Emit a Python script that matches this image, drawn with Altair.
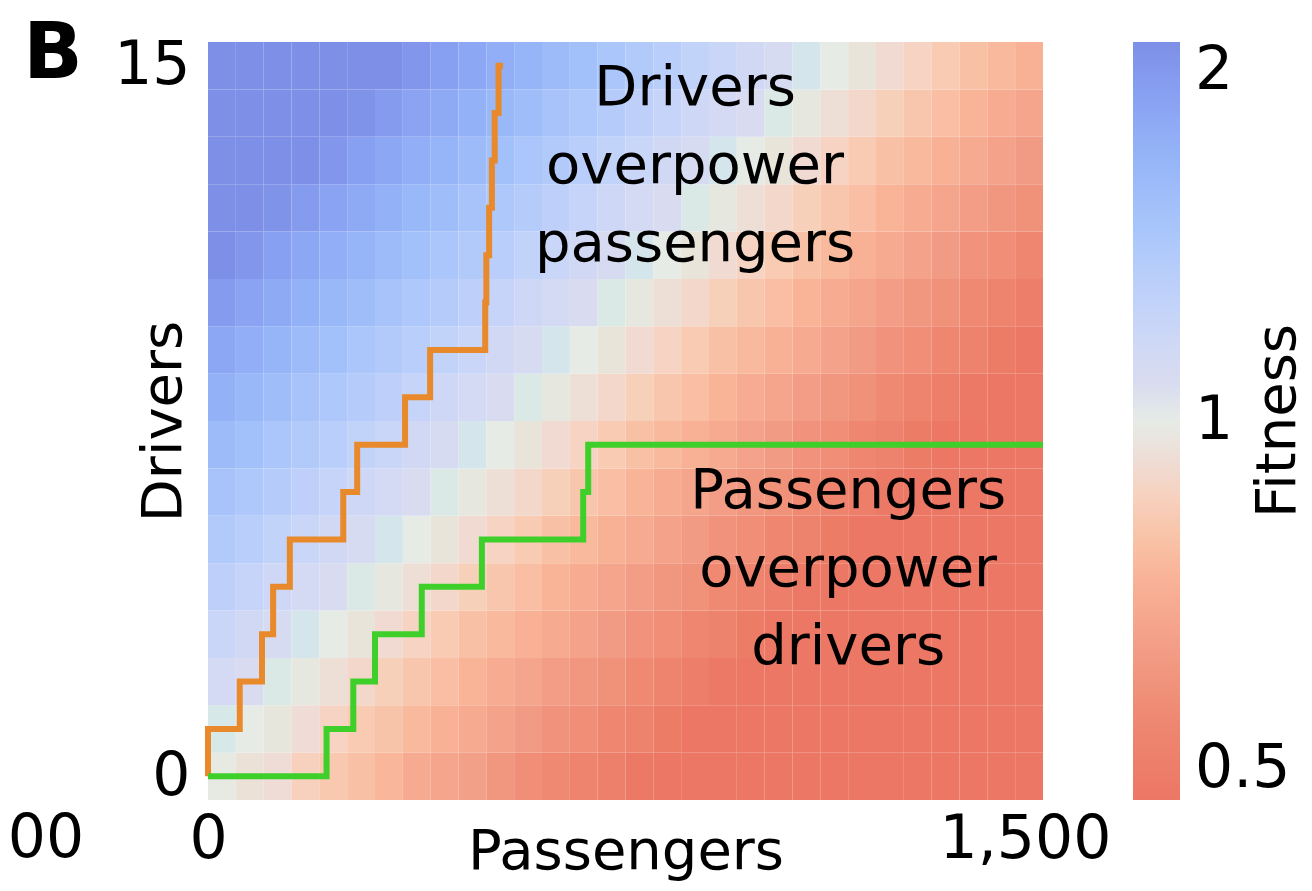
import altair as alt
import pandas as pd

# ---------------- data ----------------
# heat map: rows = drivers 0..15, columns = passenger bins of 50 (0..1500)
bin_width = 50
fitness_rows = [
    [0.99,0.95,0.93,0.87,0.83,0.80,0.76,0.71,0.69,0.67,0.63,0.60,0.58,0.56,0.54,0.51,0.50,0.50,0.50,0.50,0.50,0.50,0.50,0.50,0.50,0.50,0.50,0.50,0.50,0.50],
    [1.03,1.00,0.97,0.93,0.88,0.84,0.81,0.77,0.74,0.71,0.68,0.65,0.62,0.60,0.57,0.55,0.52,0.50,0.50,0.50,0.50,0.50,0.50,0.50,0.50,0.50,0.50,0.50,0.50,0.50],
    [1.11,1.07,1.02,0.98,0.94,0.90,0.86,0.82,0.79,0.75,0.72,0.69,0.66,0.63,0.61,0.58,0.56,0.53,0.51,0.50,0.50,0.50,0.50,0.50,0.50,0.50,0.50,0.50,0.50,0.50],
    [1.19,1.14,1.09,1.04,1.00,0.96,0.92,0.88,0.84,0.80,0.77,0.74,0.71,0.68,0.65,0.62,0.60,0.57,0.55,0.52,0.50,0.50,0.50,0.50,0.50,0.50,0.50,0.50,0.50,0.50],
    [1.27,1.22,1.16,1.11,1.07,1.02,0.98,0.94,0.90,0.86,0.82,0.79,0.75,0.72,0.69,0.66,0.63,0.61,0.58,0.56,0.53,0.51,0.50,0.50,0.50,0.50,0.50,0.50,0.50,0.50],
    [1.35,1.30,1.24,1.19,1.14,1.09,1.04,1.00,0.96,0.92,0.88,0.84,0.80,0.77,0.74,0.71,0.68,0.65,0.62,0.60,0.57,0.55,0.52,0.50,0.50,0.50,0.50,0.50,0.50,0.50],
    [1.44,1.38,1.33,1.27,1.22,1.16,1.11,1.07,1.02,0.98,0.94,0.90,0.86,0.82,0.79,0.75,0.72,0.69,0.66,0.63,0.61,0.58,0.56,0.53,0.51,0.50,0.50,0.50,0.50,0.50],
    [1.54,1.48,1.41,1.35,1.30,1.24,1.19,1.14,1.09,1.04,1.00,0.96,0.92,0.88,0.84,0.80,0.77,0.74,0.71,0.68,0.65,0.62,0.60,0.57,0.55,0.52,0.50,0.50,0.50,0.50],
    [1.65,1.58,1.51,1.44,1.38,1.33,1.27,1.22,1.16,1.11,1.07,1.02,0.98,0.94,0.90,0.86,0.82,0.79,0.75,0.72,0.69,0.66,0.63,0.61,0.58,0.56,0.53,0.51,0.50,0.50],
    [1.76,1.68,1.61,1.54,1.48,1.41,1.35,1.30,1.24,1.19,1.14,1.09,1.04,1.00,0.96,0.92,0.88,0.84,0.80,0.77,0.74,0.71,0.68,0.65,0.62,0.60,0.57,0.55,0.52,0.50],
    [1.87,1.80,1.72,1.65,1.58,1.51,1.44,1.38,1.33,1.27,1.22,1.16,1.11,1.07,1.02,0.98,0.94,0.90,0.86,0.82,0.79,0.75,0.72,0.69,0.66,0.63,0.61,0.58,0.56,0.53],
    [2.00,1.92,1.83,1.76,1.68,1.61,1.54,1.48,1.41,1.35,1.30,1.24,1.19,1.14,1.09,1.04,1.00,0.96,0.92,0.88,0.84,0.80,0.77,0.74,0.71,0.68,0.65,0.62,0.60,0.57],
    [2.00,2.00,1.96,1.87,1.80,1.72,1.65,1.58,1.51,1.44,1.38,1.33,1.27,1.22,1.16,1.11,1.07,1.02,0.98,0.94,0.90,0.86,0.82,0.79,0.75,0.72,0.69,0.66,0.63,0.61],
    [2.00,2.00,2.00,2.00,1.92,1.83,1.76,1.68,1.61,1.54,1.48,1.41,1.35,1.30,1.24,1.19,1.14,1.09,1.04,1.00,0.96,0.92,0.88,0.84,0.80,0.77,0.74,0.71,0.68,0.65],
    [2.00,2.00,2.00,2.00,2.00,1.96,1.87,1.80,1.72,1.65,1.58,1.51,1.44,1.38,1.33,1.27,1.22,1.16,1.11,1.07,1.02,0.98,0.94,0.90,0.86,0.82,0.79,0.75,0.72,0.69],
    [2.00,2.00,2.00,2.00,2.00,2.00,2.00,1.92,1.83,1.76,1.68,1.61,1.54,1.48,1.41,1.35,1.30,1.24,1.19,1.14,1.09,1.04,1.00,0.96,0.92,0.88,0.84,0.80,0.77,0.74],
]

# orange boundary: passengers reached at each driver level (step line)
orange_drivers = [0, 1, 2, 3, 4, 5, 6, 7, 8, 9, 10, 11, 12, 13, 14, 15]
orange_passengers = [0, 57, 97, 117, 147, 243, 268, 354, 399, 498, 500, 505, 510, 515, 522, 530]

# green boundary
green_drivers = [0, 1, 2, 3, 4, 5, 6, 7, 7]
green_passengers = [0, 213, 261, 300, 384, 492, 674, 683, 1500]

annot_labels = ["Drivers\noverpower\npassengers", "Passengers\noverpower\ndrivers"]
annot_passengers = [875, 1150]
annot_drivers = [14.17, 5.66]

# colour stops on log2(fitness): 0.5, 0.57, 0.65, 0.75, 0.85, 0.93, 1, 1.07, 1.2, 1.4, 1.6, 1.8, 2
fit_stops_log2 = [-1.0, -0.81, -0.62, -0.415, -0.234, -0.105, 0.0, 0.098, 0.263, 0.485, 0.678, 0.848, 1.0]
fit_colors = ["#ec7764", "#ee8670", "#f29b84", "#f9b397", "#f8ceb5", "#efdcd6",
              "#e6ebe6", "#d9dcf0", "#c8d6f8", "#abc7fb", "#97b6f8", "#8aa3f3", "#7d8fe6"]

# ---------------- tables ----------------
recs = []
for d, row in enumerate(fitness_rows):
    for j, f in enumerate(row):
        recs.append({"p0": j * bin_width, "p1": (j + 1) * bin_width,
                     "y0": d - 0.5, "y1": d + 0.5, "fitness": f})
heat_df = pd.DataFrame(recs)
orange_df = pd.DataFrame({"passengers": orange_passengers, "drivers": orange_drivers,
                          "i": list(range(len(orange_drivers)))})
green_df = pd.DataFrame({"passengers": green_passengers, "drivers": green_drivers,
                         "i": list(range(len(green_drivers)))})
annot_df = pd.DataFrame({"label": annot_labels, "p": annot_passengers, "d": annot_drivers})

FONT = "DejaVu Sans"
FS = 56
TFS = 60

xscale = alt.Scale(domain=[0, 1500], nice=False, zero=False)
yscale = alt.Scale(domain=[-0.5, 15.5], nice=False, zero=False)
cscale = alt.Scale(type="linear", domain=fit_stops_log2, range=fit_colors, clamp=True)

x_axis = alt.Axis(values=[0, 1500], title="Passengers",
                  labelExpr="datum.value == 0 ? '0' : '1,500'", labelLimit=400,
                  labelFlush=False, labelOffset={"expr": "datum.value == 1500 ? -18 : 0"},
                  labelFontSize=TFS, titleFontSize=FS, labelFont=FONT, titleFont=FONT,
                  domain=False, ticks=False, tickSize=0, grid=False,
                  labelPadding=10, labelColor="black", titleColor="black",
                  titleFontWeight="normal", titleBaseline="alphabetic", titleY=68)
y_axis = alt.Axis(values=[0, 15], title="Drivers",
                  labelFontSize=TFS, titleFontSize=FS, labelFont=FONT, titleFont=FONT,
                  domain=False, ticks=False, tickSize=0, grid=False, labelFlush=False,
                  labelPadding=18, labelColor="black", titleColor="black",
                  titleFontWeight="normal", titleAngle=270, titleX=-45, titleY=379,
                  titleAlign="center", titleBaseline="middle")


def xe(field):
    return alt.X(field, scale=xscale, axis=x_axis, title="Passengers")


def ye(field):
    return alt.Y(field, scale=yscale, axis=y_axis, title="Drivers")


heat = alt.Chart(heat_df).transform_calculate(
    lf="log(datum.fitness) / LN2"
).mark_rect().encode(
    x=xe("p0:Q"),
    x2="p1:Q",
    y=ye("y0:Q"),
    y2="y1:Q",
    color=alt.Color("lf:Q", scale=cscale, title="Fitness",
                    legend=alt.Legend(type="gradient", orient="none", legendX=925, legendY=0,
                                      direction="vertical", gradientLength=758,
                                      gradientThickness=47, title=None,
                                      values=[-1, 0, 1],
                                      labelExpr="datum.value == -1 ? '0.5' : datum.value == 0 ? '1' : '2'",
                                      labelFontSize=TFS, labelFont=FONT, labelColor="black",
                                      labelOffset=15, gradientStrokeWidth=0)),
)

orange = alt.Chart(orange_df).mark_line(color="#e8892b", strokeWidth=6,
                                        interpolate="step-before").encode(
    x=xe("passengers:Q"), y=ye("drivers:Q"), order="i:Q")

green = alt.Chart(green_df).mark_line(color="#3fcf2a", strokeWidth=6,
                                      interpolate="step-after").encode(
    x=xe("passengers:Q"), y=ye("drivers:Q"), order="i:Q")

annot = alt.Chart(annot_df).mark_text(font=FONT, fontSize=FS, lineBreak="\n", align="center",
                                      baseline="alphabetic", lineHeight=78,
                                      color="black").encode(
    x=xe("p:Q"), y=ye("d:Q"), text="label:N")

panel = alt.Chart(pd.DataFrame({"t": ["B"]})).mark_text(
    font=FONT, fontSize=78, fontWeight="bold", align="center", baseline="alphabetic",
    color="black").encode(x=alt.value(-155), y=alt.value(36), text="t:N")

frag = alt.Chart(pd.DataFrame({"t": ["00"]})).mark_text(
    font=FONT, fontSize=TFS, align="center", baseline="top", color="black").encode(
    x=alt.value(-162), y=alt.value(768), text="t:N")

fit_title = alt.Chart(pd.DataFrame({"t": ["Fitness"]})).mark_text(
    font=FONT, fontSize=FS, align="center", baseline="middle", angle=270,
    color="black").encode(x=alt.value(1070), y=alt.value(379), text="t:N")

chart = alt.layer(heat, orange, green, annot, panel, frag, fit_title).properties(
    width=835, height=758, autosize="none",
    padding={"left": 200, "top": 34, "right": 261, "bottom": 83},
    background="white",
).configure_view(strokeWidth=0)

chart.save("out.html", embed_options={"renderer": "svg", "actions": False})
